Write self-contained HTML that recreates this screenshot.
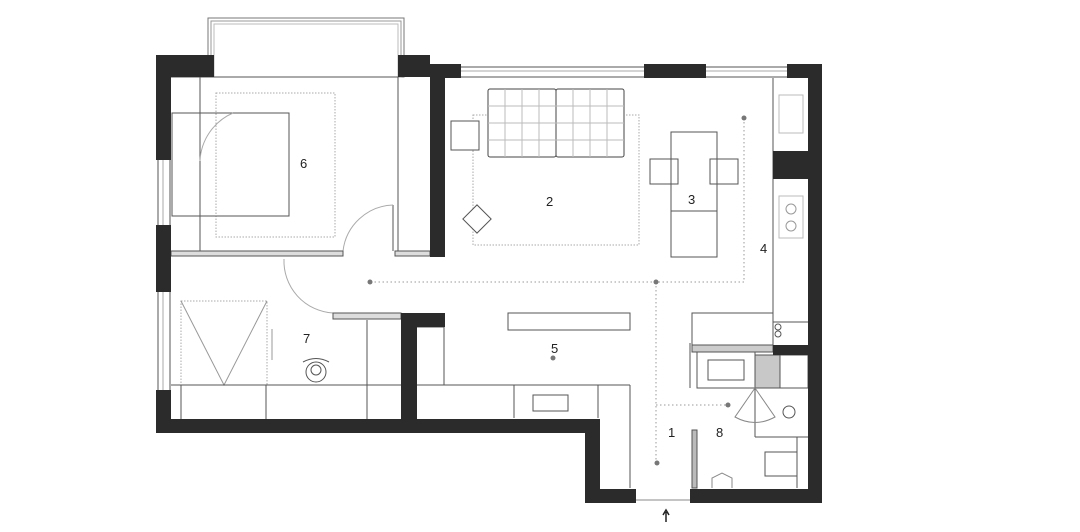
<!DOCTYPE html>
<html><head><meta charset="utf-8"><style>
html,body{margin:0;padding:0;background:#fff;width:1080px;height:532px;overflow:hidden}
svg text{font-family:"Liberation Sans",sans-serif;font-size:13px;fill:#222}
</style></head><body>
<svg width="1080" height="532" viewBox="0 0 1080 532" xmlns="http://www.w3.org/2000/svg">
<g fill="none" stroke="#555" stroke-width="1">
<rect x="208" y="18" width="196" height="59" stroke="#777"/>
<rect x="211" y="21" width="190" height="56" stroke="#999"/>
<rect x="214" y="24" width="184" height="53" stroke="#bbb"/>
<line x1="461" y1="67" x2="644" y2="67"/><line x1="461" y1="71" x2="644" y2="71" stroke="#aaa"/><line x1="461" y1="77" x2="644" y2="77"/>
<line x1="706" y1="67" x2="787" y2="67"/><line x1="706" y1="71" x2="787" y2="71" stroke="#aaa"/><line x1="706" y1="77" x2="787" y2="77"/>
<line x1="158" y1="160" x2="158" y2="225"/><line x1="163" y1="160" x2="163" y2="225" stroke="#aaa"/><line x1="170" y1="160" x2="170" y2="225"/>
<line x1="158" y1="292" x2="158" y2="390"/><line x1="163" y1="292" x2="163" y2="390" stroke="#aaa"/><line x1="170" y1="292" x2="170" y2="390"/>
<line x1="171" y1="77" x2="398" y2="77"/>
<line x1="200" y1="77" x2="200" y2="251"/>
<rect x="216" y="93" width="119" height="144" stroke="#aaa" stroke-dasharray="1.5 1.5"/>
<rect x="172" y="113" width="117" height="103"/>
<path d="M200 161 A55 55 0 0 1 233 113" stroke="#aaa"/>
<line x1="398" y1="77" x2="398" y2="251"/>
<line x1="393" y1="205" x2="393" y2="251"/>
<path d="M393 205 A52 52 0 0 0 343 251" stroke="#aaa"/>
<rect x="171" y="251" width="172" height="5" fill="#ddd"/>
<rect x="395" y="251" width="35" height="5" fill="#ddd"/>
<path d="M284 259 A52 52 0 0 0 333 313" stroke="#aaa"/>
<rect x="333" y="313" width="68" height="6" fill="#ddd"/>
<rect x="181" y="301" width="86" height="84" stroke="#aaa" stroke-dasharray="1.5 1.5"/>
<polyline points="181,301 224,385 267,301" stroke="#999"/>
<line x1="171" y1="385" x2="401" y2="385"/>
<line x1="181" y1="385" x2="181" y2="419"/><line x1="266" y1="385" x2="266" y2="419"/>
<line x1="367" y1="320" x2="367" y2="419"/>
<line x1="272" y1="329" x2="272" y2="360" stroke="#999"/>
<ellipse cx="316" cy="372" rx="10" ry="10"/><path d="M303 362 Q316 355 329 362"/><circle cx="316" cy="370" r="5"/>
<rect x="473" y="115" width="166" height="130" stroke="#aaa" stroke-dasharray="1.5 1.5"/>
<rect x="488" y="89" width="68" height="68" fill="#fff" stroke="#444" rx="2"/>
<rect x="556" y="89" width="68" height="68" fill="#fff" stroke="#444" rx="2"/>
<g stroke="#bbb"><line x1="505" y1="89" x2="505" y2="157"/><line x1="522" y1="89" x2="522" y2="157"/><line x1="539" y1="89" x2="539" y2="157"/><line x1="573" y1="89" x2="573" y2="157"/><line x1="590" y1="89" x2="590" y2="157"/><line x1="607" y1="89" x2="607" y2="157"/><line x1="488" y1="106" x2="624" y2="106"/><line x1="488" y1="123" x2="624" y2="123"/><line x1="488" y1="140" x2="624" y2="140"/></g>
<rect x="451" y="121" width="28" height="29" fill="#fff"/>
<rect x="467" y="209" width="20" height="20" transform="rotate(45 477 219)" fill="#fff"/>
<rect x="671" y="132" width="46" height="125"/><line x1="671" y1="211" x2="717" y2="211"/>
<rect x="650" y="159" width="28" height="25"/><rect x="710" y="159" width="28" height="25"/>
<line x1="773" y1="78" x2="773" y2="345"/>
<rect x="779" y="95" width="24" height="38" stroke="#bbb"/>
<rect x="779" y="196" width="24" height="42" stroke="#bbb"/>
<circle cx="791" cy="209" r="5" stroke="#999"/><circle cx="791" cy="226" r="5" stroke="#999"/>
<line x1="773" y1="322" x2="808" y2="322"/>
<circle cx="778" cy="327" r="3"/><circle cx="778" cy="334" r="3"/>
<rect x="692" y="313" width="81" height="32"/>
<rect x="508" y="313" width="122" height="17"/>
<rect x="416" y="327" width="28" height="58"/>
<line x1="416" y1="385" x2="630" y2="385"/><line x1="630" y1="385" x2="630" y2="488"/>
<line x1="514" y1="385" x2="514" y2="418"/>
<rect x="533" y="395" width="35" height="16"/>
<line x1="598" y1="385" x2="598" y2="418"/>
<rect x="692" y="345" width="81" height="7" fill="#ccc"/>
<rect x="697" y="352" width="58" height="36"/><rect x="708" y="360" width="36" height="20"/>
<line x1="690" y1="343" x2="690" y2="388"/>
<rect x="755" y="355" width="25" height="33" fill="#c8c8c8"/>
<rect x="780" y="355" width="28" height="33"/>
<line x1="755" y1="388" x2="808" y2="388"/>
<line x1="755" y1="388" x2="755" y2="437"/><line x1="755" y1="437" x2="808" y2="437"/>
<path d="M755 388 L735 417 Q755 428 775 417 Z" stroke="#888"/>
<circle cx="789" cy="412" r="6"/>
<line x1="797" y1="437" x2="797" y2="488"/>
<rect x="765" y="452" width="32" height="24"/>
<path d="M712 488 L712 478 L722 473 L732 478 L732 488" stroke="#888"/>
<rect x="692" y="430" width="5" height="58" fill="#bbb"/>
</g>
<g stroke="#999" stroke-width="1" stroke-dasharray="1.5 2.5" fill="none">
<polyline points="744,118 744,282 370,282"/>
<line x1="656" y1="282" x2="656" y2="463"/>
<line x1="656" y1="405" x2="728" y2="405"/>
</g>
<g fill="#777"><circle cx="744" cy="118" r="2.5"/><circle cx="656" cy="282" r="2.5"/><circle cx="370" cy="282" r="2.5"/><circle cx="657" cy="463" r="2.5"/><circle cx="728" cy="405" r="2.5"/><circle cx="553" cy="358" r="2.5"/></g>
<g fill="#2b2b2b">
<rect x="156" y="55" width="58" height="22"/>
<rect x="156" y="55" width="15" height="105"/>
<rect x="156" y="225" width="15" height="67"/>
<rect x="156" y="390" width="15" height="43"/>
<rect x="156" y="419" width="444" height="14"/>
<rect x="398" y="55" width="32" height="22"/>
<rect x="430" y="64" width="31" height="14"/>
<rect x="430" y="64" width="15" height="193"/>
<rect x="644" y="64" width="62" height="14"/>
<rect x="787" y="64" width="35" height="14"/>
<rect x="808" y="64" width="14" height="439"/>
<rect x="773" y="151" width="35" height="28"/>
<rect x="773" y="345" width="35" height="10"/>
<rect x="401" y="313" width="44" height="14"/>
<rect x="401" y="313" width="16" height="106"/>
<rect x="585" y="419" width="15" height="84"/>
<rect x="585" y="489" width="51" height="14"/>
<rect x="690" y="489" width="132" height="14"/>
</g>
<line x1="636" y1="500" x2="690" y2="500" stroke="#888"/>
<path d="M666 522 L666 512 M663 515 L666 510 L669 515" stroke="#222" stroke-width="1.5" fill="none"/>
<text x="300" y="168">6</text><text x="546" y="206">2</text><text x="688" y="204">3</text><text x="760" y="253">4</text>
<text x="551" y="353">5</text><text x="303" y="343">7</text><text x="668" y="437">1</text><text x="716" y="437">8</text>
</svg>
</body></html>
